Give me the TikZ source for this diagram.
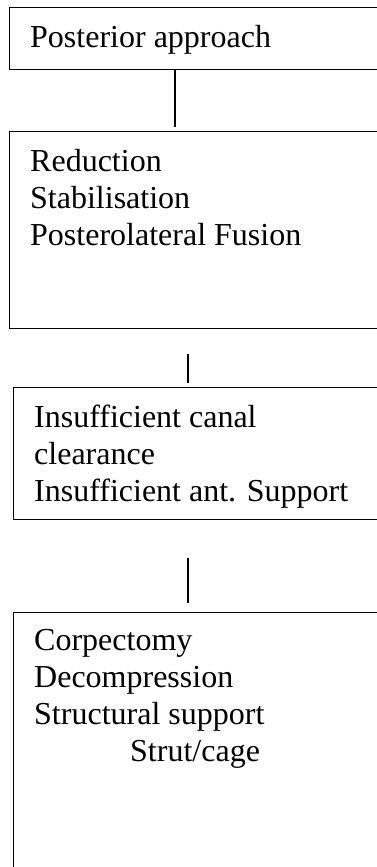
\documentclass[tikz,border=0pt]{standalone}
\usepackage{fontspec}
\setmainfont{Liberation Serif}
\begin{document}
\begin{tikzpicture}[x=1pt,y=-1pt,
  boxline/.style={draw=black,line width=1.3pt,fill=none},
  conn/.style={draw=black,line width=1.3pt},
  lbl/.style={anchor=base west,inner sep=0pt,align=left,font=\fontsize{32}{37}\selectfont}]
\useasboundingbox (0,0) rectangle (377,867);
\clip (0,0) rectangle (377,867);
% boxes
\node[boxline,anchor=north west,minimum width=420pt,minimum height=62pt,inner sep=0pt] (b1) at (9,7) {};
\node[boxline,anchor=north west,minimum width=420pt,minimum height=197pt,inner sep=0pt] (b2) at (9,131) {};
\node[boxline,anchor=north west,minimum width=420pt,minimum height=132pt,inner sep=0pt] (b3) at (13,387) {};
\node[boxline,anchor=north west,minimum width=420pt,minimum height=300pt,inner sep=0pt] (b4) at (13,612) {};
% texts (base anchor = baseline of last line)
\node[lbl] (t1) at (30,48) {Posterior approach};
\node[lbl] (t2) at (30,245) {Reduction\\Stabilisation\\Posterolateral Fusion};
\node[lbl] (t3) at (34,501) {Insufficient canal\\clearance\\Insufficient ant. Support};
\node[lbl] (t4) at (34,761) {Corpectomy\\Decompression\\Structural support\\\hspace*{96pt}Strut/cage};
% connectors
\coordinate (c1a) at (175,69);
\coordinate (c1b) at (175,127);
\coordinate (c2a) at (188,354);
\coordinate (c2b) at (188,383);
\coordinate (c3a) at (188,558);
\coordinate (c3b) at (188,603);
\draw[conn] (c1a) -- (c1b);
\draw[conn] (c2a) -- (c2b);
\draw[conn] (c3a) -- (c3b);
\end{tikzpicture}
\end{document}
